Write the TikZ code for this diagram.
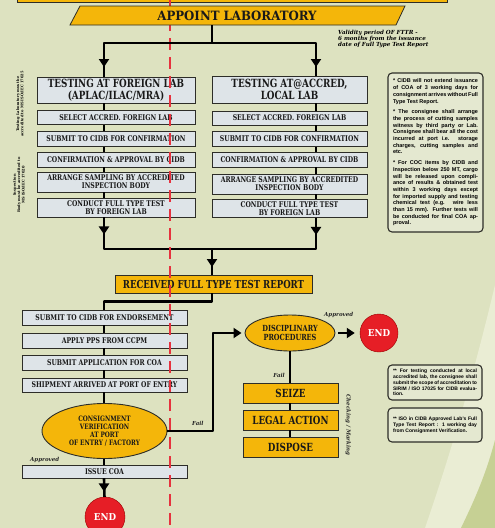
\documentclass[tikz,border=0pt]{standalone}
\usepackage{fontspec}
\setmainfont{DejaVu Serif}
\newfontfamily\slab{DejaVu Serif}[FakeStretch=0.78]
\newfontfamily\slabw{DejaVu Serif}[FakeStretch=0.92]
\newfontfamily\notefont{Liberation Sans}
\usetikzlibrary{arrows.meta,calc,shapes.geometric}
\definecolor{bg}{RGB}{221,226,192}
\definecolor{bglight}{RGB}{234,237,212}
\definecolor{bgdark}{RGB}{198,208,148}
\definecolor{yel}{RGB}{244,182,10}
\definecolor{boxf}{RGB}{222,228,232}
\definecolor{edge}{RGB}{45,45,40}
\definecolor{endred}{RGB}{230,30,38}
\definecolor{dashred}{RGB}{230,50,62}
\definecolor{notef}{RGB}{228,232,208}
\newcommand\myfs[2]{\fontsize{#1}{#2}\selectfont}
\begin{document}
\begin{tikzpicture}[x=1pt,y=-1pt,
  rowbox/.style={draw=edge,line width=0.9pt,fill=boxf,inner sep=0pt,align=center,text=black!90,font=\slab\bfseries\myfs{7.9}{8.1}},
  yelbox/.style={draw=edge,line width=0.9pt,fill=yel,inner sep=0pt,align=center,text=black!90},
  yelell/.style={ellipse,draw=edge,line width=0.9pt,fill=yel,inner sep=0pt,align=center,text=black!90},
  endc/.style={circle,fill=endred,draw=red!60!black,line width=0.4pt,minimum size=40pt,inner sep=0pt,text=white,font=\slabw\bfseries\myfs{9.5}{9.5}},
  conn/.style={line width=2.6pt,draw=black},
  arr/.style={conn,-{Triangle[width=10pt,length=8pt]}},
  notebox/.style={draw=edge,line width=1.1pt,fill=notef,rounded corners=4pt,inner sep=4pt,align=justify,font=\notefont\bfseries\myfs{5.5}{6.7}},
  lbl/.style={font=\itshape\bfseries\myfs{5.5}{6},text=black!85,inner sep=0pt}
]
\fill[bg] (0,0) rectangle (495,528);
\useasboundingbox (0,0) rectangle (495,528);
% swoosh
\fill[bglight] (495,285) .. controls (470,390) and (445,470) .. (425,528) -- (495,528) -- cycle;
\fill[bgdark] (495,440) .. controls (485,478) and (472,505) .. (461,528) -- (495,528) -- cycle;
% top band
\filldraw[fill=yel,draw=edge,line width=0.8pt] (17,-5) rectangle (447,2);

% column coordinates
\coordinate (cl) at (104,0);
\coordinate (cr) at (316,0);
\coordinate (cm) at (212,0);
\coordinate (cd) at (290,0);

% left column
\node[rowbox,minimum width=158pt,minimum height=26pt,font=\slab\bfseries\myfs{11.3}{11.5}] (hdL) at (116,90) {TESTING AT FOREIGN LAB\\(APLAC/ILAC/MRA)};
\node[rowbox,minimum width=158pt,minimum height=14pt] (l1) at (116,117.5) {SELECT ACCRED. FOREIGN LAB};
\node[rowbox,minimum width=158pt,minimum height=15pt] (l2) at (116,139) {SUBMIT TO CIDB FOR CONFIRMATION};
\node[rowbox,minimum width=158pt,minimum height=15pt] (l3) at (116,159.5) {CONFIRMATION \& APPROVAL BY CIDB};
\node[rowbox,minimum width=158pt,minimum height=20pt] (l4) at (116,182) {ARRANGE SAMPLING BY ACCREDITED\\INSPECTION BODY};
\node[rowbox,minimum width=158pt,minimum height=19pt] (l5) at (116,207.5) {CONDUCT FULL TYPE TEST\\BY FOREIGN LAB};

% right column
\node[rowbox,minimum width=155pt,minimum height=27pt,font=\slab\bfseries\myfs{11.3}{11.5}] (hdR) at (289.5,89.5) {TESTING AT@ACCRED,\\LOCAL LAB};
\node[rowbox,minimum width=155pt,minimum height=14pt] (r1) at (289.5,118) {SELECT ACCRED. FOREIGN LAB};
\node[rowbox,minimum width=155pt,minimum height=15pt] (r2) at (289.5,139) {SUBMIT TO CIDB FOR CONFIRMATION};
\node[rowbox,minimum width=155pt,minimum height=15pt] (r3) at (289.5,159.5) {CONFIRMATION \& APPROVAL BY CIDB};
\node[rowbox,minimum width=155pt,minimum height=20pt] (r4) at (289.5,184) {ARRANGE SAMPLING BY ACCREDITED\\INSPECTION BODY};
\node[rowbox,minimum width=155pt,minimum height=18pt] (r5) at (289.5,208.5) {CONDUCT FULL TYPE TEST\\BY FOREIGN LAB};

% received
\node[yelbox,minimum width=197pt,minimum height=18pt,font=\slab\bfseries\myfs{11}{11}] (recv) at (213.5,284) {RECEIVED FULL TYPE TEST REPORT};

% lower column
\node[rowbox,minimum width=165pt,minimum height=15pt] (e1) at (104.5,317.5) {SUBMIT TO CIDB FOR ENDORSEMENT};
\node[rowbox,minimum width=165pt,minimum height=15pt] (e2) at (104.5,340.5) {APPLY PPS FROM CCPM};
\node[rowbox,minimum width=165pt,minimum height=15pt] (e3) at (104.5,362.5) {SUBMIT APPLICATION FOR COA};
\node[rowbox,minimum width=165pt,minimum height=14pt] (e4) at (104.5,385) {SHIPMENT ARRIVED AT PORT OF ENTRY};
\node[yelell,minimum width=125pt,minimum height=55pt,font=\slab\bfseries\myfs{7.4}{7.8}] (ver) at (104.5,431) {CONSIGNMENT\\VERIFICATION\\AT PORT\\OF ENTRY / FACTORY};
\node[rowbox,minimum width=165pt,minimum height=13pt] (issue) at (104.5,471.5) {ISSUE COA};
\node[endc] (end2) at (105,517) {END};

% disciplinary
\node[yelell,minimum width=90pt,minimum height=36pt,font=\slab\bfseries\myfs{8.4}{8.4}] (disc) at (290,333) {DISCIPLINARY\\PROCEDURES};
\node[endc,minimum size=38pt] (end1) at (379,333) {END};
\node[yelbox,minimum width=95pt,minimum height=20pt,font=\slab\bfseries\myfs{11.2}{11.5}] (seize) at (290.5,393) {SEIZE};
\node[yelbox,minimum width=95pt,minimum height=20pt,font=\slab\bfseries\myfs{11.2}{11.5}] (legal) at (290.5,420) {LEGAL ACTION};
\node[yelbox,minimum width=95pt,minimum height=20pt,font=\slab\bfseries\myfs{11.2}{11.5}] (dispose) at (290.5,447) {DISPOSE};

% notes
\node[notebox,minimum width=95pt,minimum height=159pt,text width=85pt] (n1) at (435.5,152.5) {%
* CIDB will not extend issuance of COA of 3 working days for consignment arrives without Full Type Test Report.\par\vspace{4pt}
* The consignee shall arrange the process of cutting samples witness by third party or Lab. Consignee shall bear all the cost incurred at port i.e. storage charges, cutting samples and etc.\par\vspace{4pt}
* For COC items by CIDB and Inspection below 250 MT, cargo will be released upon compliance of results \& obtained test within 3 working days except for imported supply and testing chemical test (e.g. wire less than 15 mm). Further tests will be conducted for final COA approval.};
\node[notebox,minimum width=94pt,minimum height=35pt,text width=84pt,font=\notefont\bfseries\myfs{5}{5.8}] (n2) at (435,382.5) {** For testing conducted at local accredited lab, the consignee shall submit the scope of accreditation to SIRIM / ISO 17025 for CIDB evaluation.};
\node[notebox,minimum width=94pt,minimum height=34pt,text width=84pt,font=\notefont\bfseries\myfs{5}{5.8}] (n3) at (435,425) {** ISO in CIDB Approved Lab's Full Type Test Report : 1 working day from Consignment Verification.};

% side texts
\node[rotate=90,align=center,font=\bfseries\myfs{3.6}{4.3},inner sep=0pt] (s1) at (20,104) {Testing Laboratory must be\\accredited to MS ISO/IEC 17025};
\node[rotate=90,align=center,font=\bfseries\myfs{3.6}{4.3},inner sep=0pt] (s2) at (19,185) {Inspection\\Body must be accredited to\\MS ISO/IEC 17020};

% validity
\node[anchor=west,align=left,font=\itshape\bfseries\myfs{5.6}{6.2},inner sep=0pt] (val) at (338,39) {Validity period OF FTTR -\\6 months from the issuance\\date of Full Type Test Report};

% column connectors
\foreach \a/\b in {hdL/l1,l1/l2,l2/l3,l3/l4,l4/l5}{\draw[conn] (\a.south -| cl) -- (\b.north -| cl);}
\foreach \a/\b in {hdR/r1,r1/r2,r2/r3,r3/r4,r4/r5}{\draw[conn] (\a.south -| cr) -- (\b.north -| cr);}
\foreach \a/\b in {e1/e2,e2/e3,e3/e4,e4/ver,ver/issue}{\draw[conn] (\a.south -| cl) -- (\b.north -| cl);}
\draw[conn] (seize.south -| cd) -- (legal.north -| cd);
\draw[conn] (legal.south -| cd) -- (dispose.north -| cd);
\draw[conn] (disc.south) -- (seize.north -| cd);

% merge to received
\coordinate (bj) at (212,249);
\draw[conn,line join=round] (l5.south -| cl) |- (bj) -| (r5.south -| cr);
\draw[arr] (l5.south -| cl) -- ++(0,17);
\draw[arr] (r5.south -| cr) -- ++(0,17);
\draw[conn] (bj) -- (recv.north -| bj);
\draw[arr] (bj) -- ++(0,18);
\draw[conn,line join=round] (recv.south -| bj) -- ++(0,8) -| (e1.north -| cl);
% end
\draw[conn] (issue.south -| cl) -- (end2);
\draw[arr] (issue.south -| cl) -- ++(0,13);
% fail path
\coordinate (fj) at (213,333);
\draw[arr,line join=round,shorten >=3pt] (ver.east) -| (fj) -- (disc.west);
\draw[arr,shorten <=3pt,shorten >=5pt] (disc.east) -- (end1.west);

% labels
\node[lbl,anchor=west] (lf1) at (192,423) {Fail};
\node[lbl,anchor=west] (la1) at (30,460) {Approved};
\node[lbl,anchor=west] (la2) at (324,315) {Approved};
\node[lbl,anchor=east] (lf2) at (285,375) {Fail};
\node[lbl,rotate=-90] (lcm) at (348,425) {Checking / Marking};

% red dashed line
\draw[dashred,line width=1.3pt,dash pattern=on 12pt off 7pt] (170,0) -- (170,528);

% appoint bar
\filldraw[fill=yel,draw=edge,line width=0.8pt] (70,25) -- (80,6) -- (405,6) -- (396,25) -- cycle;
\node[minimum height=19pt,minimum width=200pt,inner sep=0pt,font=\slabw\bfseries\myfs{12.8}{13},text=black!90] (appoint) at (237,15.5) {APPOINT LABORATORY};
\coordinate (tj) at (212,43);
\draw[conn] (appoint.south -| tj) -- (tj);
\draw[conn,line join=round] (hdL.north -| cl) |- (tj) -| (hdR.north -| cr);
\draw[arr] (tj -| cl) -- ++(0,24);
\draw[arr] (tj -| cr) -- ++(0,24);
\end{tikzpicture}
\end{document}
